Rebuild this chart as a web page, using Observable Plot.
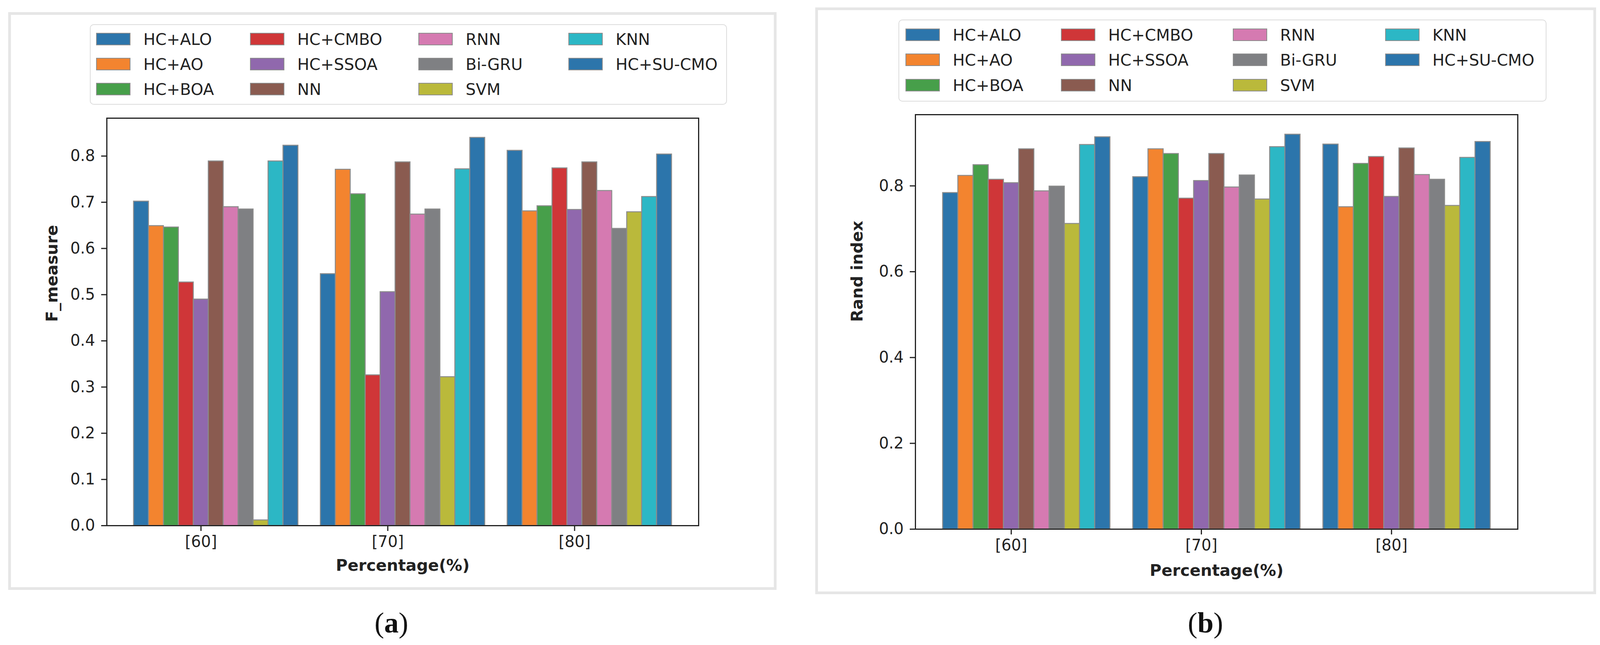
<!DOCTYPE html>
<html><head><meta charset="utf-8">
<script src="https://cdn.jsdelivr.net/npm/d3@7"></script>
<script src="https://cdn.jsdelivr.net/npm/@observablehq/plot@0.6"></script>
<style>
html,body{margin:0;padding:0;background:#fff;}
#page{position:relative;width:4107px;height:1651px;overflow:hidden;font-family:"DejaVu Sans",sans-serif;color:#222;background:#fff;}
.panel{position:absolute;box-sizing:border-box;border:7px solid #e6e6e6;background:#fff;}
.legend{position:absolute;box-sizing:border-box;border:2.5px solid #dcdcdc;border-radius:10px;background:#fff;}
.sw{position:absolute;box-sizing:border-box;border:2.5px solid #8c8c8c;}
.lt{position:absolute;font-size:41px;line-height:1;white-space:nowrap;transform:translateY(-50%);color:#222;}
.cap{position:absolute;font-family:"Liberation Serif","Times New Roman",serif;font-size:74px;line-height:1;transform:translate(-50%,-50%);color:#111;}
.chart{position:absolute;}
</style></head><body><div id="page"></div>
<script>
// ---- data ----
const series = ["HC+ALO","HC+AO","HC+BOA","HC+CMBO","HC+SSOA","NN","RNN","Bi-GRU","SVM","KNN","HC+SU-CMO"];
const percentages = ["[60]","[70]","[80]"];
const fMeasure60 = [0.702,0.649,0.646,0.527,0.490,0.789,0.690,0.685,0.012,0.789,0.823];
const fMeasure70 = [0.545,0.771,0.718,0.326,0.506,0.787,0.674,0.685,0.322,0.772,0.840];
const fMeasure80 = [0.812,0.681,0.692,0.774,0.684,0.787,0.725,0.643,0.679,0.712,0.804];
const rand60 = [0.784,0.824,0.849,0.815,0.807,0.886,0.788,0.799,0.712,0.896,0.914];
const rand70 = [0.821,0.886,0.875,0.771,0.812,0.875,0.797,0.825,0.769,0.891,0.920];
const rand80 = [0.897,0.751,0.852,0.868,0.775,0.888,0.826,0.815,0.754,0.866,0.903];
const fTicks = [0,0.1,0.2,0.3,0.4,0.5,0.6,0.7,0.8];
const randTicks = [0,0.2,0.4,0.6,0.8];
const xLabel = "Percentage(%)";

// ---- styles ----
const palette = ["#2c75ab","#f3842f","#479f4a","#cf3638","#9068ad","#8a5b50","#d57ab1","#7f8083","#bab93b","#2cb7c5","#2c75ab"];
const barW = 0.08;
const tickIndex = 4;

const page = document.getElementById("page");

function el(tag, cls, css, text) {
  const e = document.createElement(tag);
  if (cls) e.className = cls;
  Object.assign(e.style, css);
  if (text != null) e.textContent = text;
  page.appendChild(e);
  return e;
}

function drawPanel(cfg) {
  el("div", "panel", {left: cfg.panel[0]+"px", top: cfg.panel[1]+"px", width: cfg.panel[2]+"px", height: cfg.panel[3]+"px"});
  // legend
  el("div", "legend", {left: cfg.legend[0]+"px", top: cfg.legend[1]+"px", width: cfg.legend[2]+"px", height: cfg.legend[3]+"px"});
  series.forEach((s, k) => {
    const col = Math.floor(k / 3), row = k % 3;
    const x = cfg.legCols[col], y = cfg.legRows[row];
    el("div", "sw", {left: x+"px", top: y+"px", width: "88px", height: "32px", background: palette[k]});
    el("div", "lt", {left: (x+121)+"px", top: (y+17)+"px"}, s);
  });
  // chart
  const rows = [];
  cfg.groups.forEach((vals, g) => vals.forEach((v, i) => rows.push({g, i, series: series[i], value: v})));
  const lo = -barW/2, hi = (percentages.length-1) + (series.length-1)*barW + barW/2;
  const pad = (hi - lo) * 0.05;
  const ymax = d3.max(rows, d => d.value) * 1.05;
  const [sx, sy, sw, sh] = cfg.svg;
  const [fl, ft, fr, fb] = cfg.frame;
  const chart = Plot.plot({
    width: sw, height: sh,
    marginLeft: fl - sx, marginTop: ft - sy, marginRight: (sx + sw) - fr, marginBottom: (sy + sh) - fb,
    x: {domain: [lo - pad, hi + pad], axis: null},
    y: {domain: [0, ymax], axis: null},
    color: {domain: d3.range(series.length), range: palette},
    style: {fontFamily: "DejaVu Sans", fontSize: "40px", background: "transparent", color: "#222", overflow: "visible"},
    marks: [
      Plot.rectY(rows, {x1: d => d.g + d.i*barW - barW/2, x2: d => d.g + d.i*barW + barW/2, y1: 0, y2: "value", fill: "i", stroke: "#8c8c8c", strokeWidth: 2.5}),
      Plot.axisY({ticks: cfg.yTicks, tickFormat: d3.format(".1f"), tickSize: 14, tickPadding: 16, fontSize: 40, color: "#222", strokeWidth: 3, label: null}),
      Plot.axisX({ticks: percentages.map((p, g) => g + tickIndex*barW), tickFormat: d => percentages[Math.round(d - tickIndex*barW)], tickSize: 14, tickPadding: 12, fontSize: 40, color: "#222", strokeWidth: 3, label: null}),
      Plot.frame({stroke: "#222", strokeWidth: 3}),
      Plot.text([cfg.yLabel], {text: d => d, frameAnchor: "left", rotate: -90, dx: cfg.yLabelDx, fontWeight: "bold", fontSize: 41, fill: "#222"}),
      Plot.text([xLabel], {text: d => d, frameAnchor: "bottom", lineAnchor: "top", dy: cfg.xLabelDy, fontWeight: "bold", fontSize: 41, fill: "#222"})
    ]
  });
  chart.classList.add("chart");
  chart.style.left = sx + "px";
  chart.style.top = sy + "px";
  page.appendChild(chart);
  const cap = el("div", "cap", {left: cfg.cap[0]+"px", top: cfg.cap[1]+"px"});
  cap.innerHTML = "(<b>" + cfg.capLetter + "</b>)";
}

drawPanel({
  panel: [21, 31, 1967, 1479],
  legend: [230, 62, 1631, 206],
  legCols: [246, 640, 1071, 1455],
  legRows: [84, 148, 212],
  svg: [28, 282, 1954, 1218],
  frame: [273, 302, 1788, 1345],
  groups: [fMeasure60, fMeasure70, fMeasure80],
  yTicks: fTicks,
  yLabel: "F_measure",
  yLabelDx: -140,
  xLabelDy: 86,
  cap: [1002, 1594],
  capLetter: "a"
});

drawPanel({
  panel: [2087, 19, 1999, 1502],
  legend: [2300, 50, 1659, 210],
  legCols: [2318, 2716, 3156, 3546],
  legRows: [73, 137, 202],
  svg: [2094, 272, 1985, 1242],
  frame: [2343, 293, 3885, 1354],
  groups: [rand60, rand70, rand80],
  yTicks: randTicks,
  yLabel: "Rand index",
  yLabelDx: -149,
  xLabelDy: 90,
  cap: [3086, 1594],
  capLetter: "b"
});
</script>
</body></html>
